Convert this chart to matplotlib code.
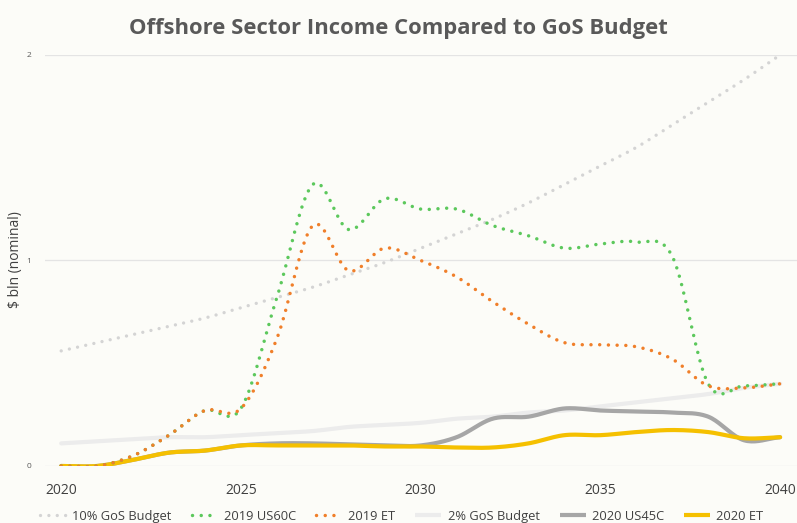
import numpy as np
import matplotlib
matplotlib.use("Agg")
import matplotlib.pyplot as plt
from matplotlib.lines import Line2D

plt.rcParams['font.family'] = ['Liberation Sans Narrow', 'Open Sans', 'DejaVu Sans']

# yearly values, $ bln nominal
years = list(range(2020, 2041))
gos_10pct = [0.56, 0.60, 0.64, 0.68, 0.72, 0.77, 0.82, 0.87, 0.93, 0.99, 1.06,
             1.13, 1.20, 1.28, 1.37, 1.46, 1.55, 1.66, 1.77, 1.88, 2.00]
us60c_2019 = [0.00, 0.00, 0.05, 0.15, 0.27, 0.28, 0.82, 1.37, 1.15, 1.30, 1.25,
              1.25, 1.17, 1.12, 1.06, 1.08, 1.09, 1.02, 0.40, 0.39, 0.40]
et_2019 = [0.00, 0.00, 0.05, 0.15, 0.27, 0.28, 0.62, 1.17, 0.95, 1.06, 1.00,
           0.92, 0.80, 0.69, 0.60, 0.59, 0.58, 0.52, 0.39, 0.38, 0.40]
gos_2pct = [0.11, 0.12, 0.13, 0.14, 0.14, 0.15, 0.16, 0.17, 0.19, 0.20, 0.21,
            0.23, 0.24, 0.26, 0.27, 0.29, 0.31, 0.33, 0.35, 0.38, 0.40]
us45c_2020 = [0.00, 0.00, 0.03, 0.065, 0.075, 0.10, 0.11, 0.11, 0.105, 0.10, 0.10,
              0.14, 0.23, 0.24, 0.28, 0.27, 0.265, 0.26, 0.24, 0.125, 0.14]
et_2020 = [0.00, 0.00, 0.03, 0.065, 0.075, 0.10, 0.10, 0.10, 0.10, 0.095, 0.095,
           0.09, 0.09, 0.11, 0.15, 0.15, 0.165, 0.175, 0.165, 0.135, 0.14]

x_ticks = [2020, 2025, 2030, 2035, 2040]
y_ticks = [0, 1, 2]


def smooth(x, y, steps=20):
    """Catmull-Rom curve through the points, like a spreadsheet smoothed line."""
    x = np.asarray(x, float)
    y = np.asarray(y, float)
    px = np.concatenate([[2 * x[0] - x[1]], x, [2 * x[-1] - x[-2]]])
    py = np.concatenate([[2 * y[0] - y[1]], y, [2 * y[-1] - y[-2]]])
    t = np.linspace(0, 1, steps, endpoint=False)
    xs, ys = [], []
    for i in range(1, len(px) - 2):
        for p, out in ((px, xs), (py, ys)):
            p0, p1, p2, p3 = p[i - 1], p[i], p[i + 1], p[i + 2]
            out.append(0.5 * (2 * p1 + (-p0 + p2) * t
                              + (2 * p0 - 5 * p1 + 4 * p2 - p3) * t ** 2
                              + (-p0 + 3 * p1 - 3 * p2 + p3) * t ** 3))
    xs.append([x[-1]])
    ys.append([y[-1]])
    return np.concatenate(xs), np.concatenate(ys)


bg = '#fcfcf8'
fig = plt.figure(figsize=(7.97, 5.23), dpi=100, facecolor=bg)
ax = fig.add_axes([0.0565, 0.109, 0.9435, 0.786], facecolor=bg)

dot = (0, (0.01, 2.5))
series = [
    (gos_10pct, '10% GoS Budget', '#d4d4d4', 2.4, dot, 1),
    (gos_2pct, '2% GoS Budget', '#ececec', 3.0, '-', 2),
    (us45c_2020, '2020 US45C', '#a6a6a6', 3.0, '-', 3),
    (et_2020, '2020 ET', '#f5c000', 3.0, '-', 4),
    (us60c_2019, '2019 US60C', '#5cc85c', 2.5, dot, 5),
    (et_2019, '2019 ET', '#f07f2a', 2.5, dot, 6),
]
handles = {}
for vals, name, color, lw, ls, z in series:
    sx, sy = smooth(years, vals)
    ax.plot(sx, sy, color=color, lw=lw, ls=ls, zorder=z,
            dash_capstyle='round', solid_capstyle='round')
    handles[name] = Line2D([], [], color=color, lw=lw, ls=ls,
                           dash_capstyle='round', solid_capstyle='butt')

ax.set_xlim(2019.55, 2040.47)
ax.set_ylim(0, 2)
ax.set_xticks(x_ticks)
ax.set_yticks(y_ticks)
ax.tick_params(axis='x', length=0, pad=12, labelsize=10, labelcolor='#404040')
ax.tick_params(axis='y', length=0, pad=10, labelsize=6, labelcolor='#595959')
ax.grid(axis='y', color='#e4e4e4', lw=0.9)
ax.set_axisbelow(True)
for s in ax.spines.values():
    s.set_visible(False)

fig.text(0.02, 0.503, '$ bln (nominal)', rotation=90, ha='center', va='center',
         fontsize=10, color='#404040')
fig.suptitle('Offshore Sector Income Compared to GoS Budget', x=0.5, y=0.965,
             fontsize=15.8, fontweight='bold', color='#595959')

order = ['10% GoS Budget', '2019 US60C', '2019 ET', '2% GoS Budget', '2020 US45C', '2020 ET']
leg = fig.legend([handles[k] for k in order], order, loc='center', ncol=6,
                 bbox_to_anchor=(0.504, 0.013), frameon=False, fontsize=9.3,
                 handlelength=2.0, columnspacing=1.55, handletextpad=0.5)
for t in leg.get_texts():
    t.set_color('#404040')

fig.savefig('out.png', dpi=100, facecolor=bg)
